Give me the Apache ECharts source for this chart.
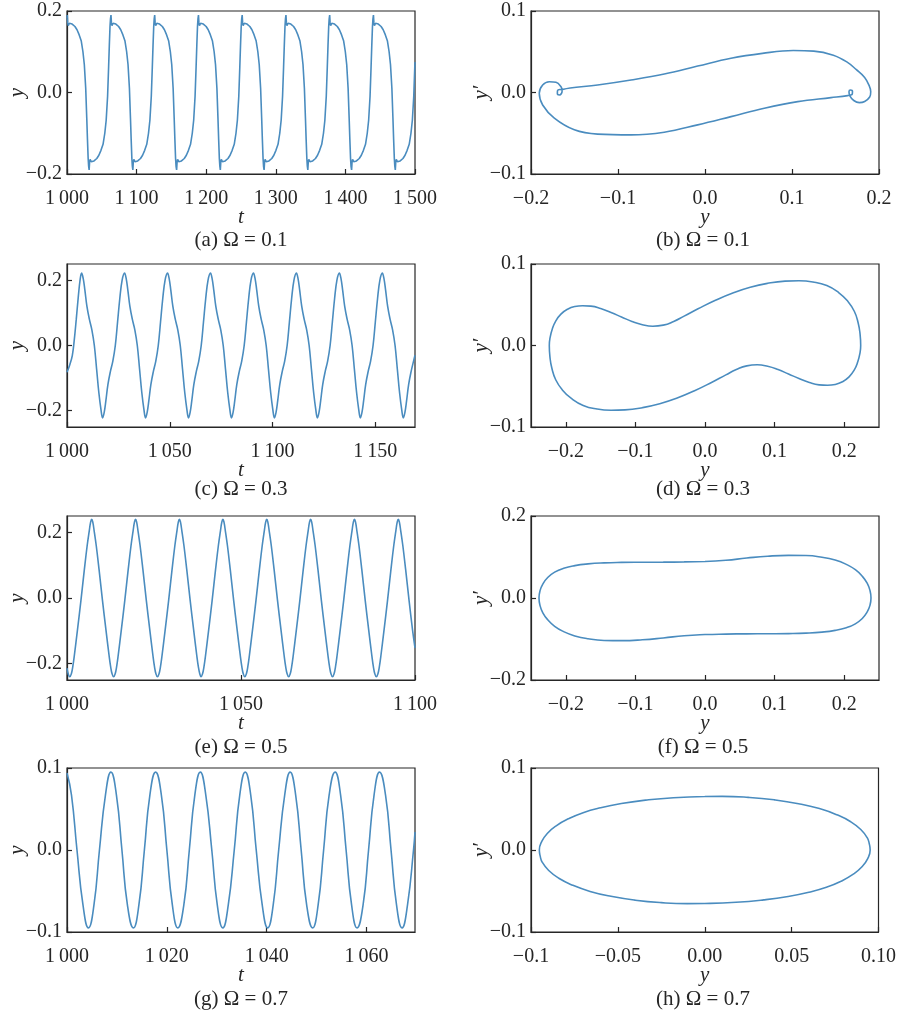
<!DOCTYPE html>
<html>
<head>
<meta charset="utf-8">
<script src="https://cdn.jsdelivr.net/npm/echarts@6/dist/echarts.min.js"></script>
<style>
  html, body { margin: 0; padding: 0; background: #fff; }
  #chart { width: 899px; height: 1017px; }
</style>
</head>
<body>
<div id="chart"></div>
<script>
// ---------- (a) Omega = 0.1 : time series y(t) ----------
const tA = [
  1000.0,
  1000.4, 1001.0, 1001.8, 1003.4, 1007.4, 1011.4, 1014.4, 1017.4, 1020.4, 1022.9, 1024.9, 1026.9, 1028.4, 1029.4, 1030.4, 1031.1,
  1031.8, 1032.4, 1033.2, 1034.8, 1038.8, 1042.8, 1045.8, 1048.8, 1051.8, 1054.3, 1056.3, 1058.3, 1059.8, 1060.8, 1061.8, 1062.5,
  1063.2, 1063.8, 1064.6, 1066.2, 1070.2, 1074.2, 1077.2, 1080.2, 1083.2, 1085.7, 1087.7, 1089.7, 1091.2, 1092.2, 1093.2, 1093.9,
  1094.6, 1095.2, 1096.0, 1097.6, 1101.6, 1105.6, 1108.6, 1111.6, 1114.6, 1117.1, 1119.1, 1121.1, 1122.6, 1123.6, 1124.6, 1125.3,
  1126.0, 1126.6, 1127.4, 1129.0, 1133.0, 1137.0, 1140.0, 1143.0, 1146.0, 1148.5, 1150.5, 1152.5, 1154.0, 1155.0, 1156.0, 1156.7,
  1157.5, 1158.1, 1158.9, 1160.5, 1164.5, 1168.5, 1171.5, 1174.5, 1177.5, 1180.0, 1182.0, 1184.0, 1185.5, 1186.5, 1187.5, 1188.2,
  1188.9, 1189.5, 1190.3, 1191.9, 1195.9, 1199.9, 1202.9, 1205.9, 1208.9, 1211.4, 1213.4, 1215.4, 1216.9, 1217.9, 1218.9, 1219.6,
  1220.3, 1220.9, 1221.7, 1223.3, 1227.3, 1231.3, 1234.3, 1237.3, 1240.3, 1242.8, 1244.8, 1246.8, 1248.3, 1249.3, 1250.3, 1251.0,
  1251.7, 1252.3, 1253.1, 1254.7, 1258.7, 1262.7, 1265.7, 1268.7, 1271.7, 1274.2, 1276.2, 1278.2, 1279.7, 1280.7, 1281.7, 1282.4,
  1283.2, 1283.8, 1284.6, 1286.2, 1290.2, 1294.2, 1297.2, 1300.2, 1303.2, 1305.7, 1307.7, 1309.7, 1311.2, 1312.2, 1313.2, 1313.9,
  1314.6, 1315.2, 1316.0, 1317.6, 1321.6, 1325.6, 1328.6, 1331.6, 1334.6, 1337.1, 1339.1, 1341.1, 1342.6, 1343.6, 1344.6, 1345.3,
  1346.0, 1346.6, 1347.4, 1349.0, 1353.0, 1357.0, 1360.0, 1363.0, 1366.0, 1368.5, 1370.5, 1372.5, 1374.0, 1375.0, 1376.0, 1376.7,
  1377.4, 1378.0, 1378.8, 1380.4, 1384.4, 1388.4, 1391.4, 1394.4, 1397.4, 1399.9, 1401.9, 1403.9, 1405.4, 1406.4, 1407.4, 1408.1,
  1408.9, 1409.5, 1410.3, 1411.9, 1415.9, 1419.9, 1422.9, 1425.9, 1428.9, 1431.4, 1433.4, 1435.4, 1436.9, 1437.9, 1438.9, 1439.6,
  1440.3, 1440.9, 1441.7, 1443.3, 1447.3, 1451.3, 1454.3, 1457.3, 1460.3, 1462.8, 1464.8, 1466.8, 1468.3, 1469.3, 1470.3, 1471.0,
  1471.7, 1472.3, 1473.1, 1474.7, 1478.7, 1482.7, 1485.7, 1488.7, 1491.7, 1494.2, 1496.2, 1498.2, 1499.7, 1500.0
];
const yA = [
  0.182,
  0.190, 0.172, 0.164, 0.170, 0.168, 0.162, 0.154, 0.142, 0.127, 0.100, 0.068, 0.010, -0.063, -0.115, -0.162, -0.181,
  -0.190, -0.172, -0.164, -0.170, -0.168, -0.162, -0.154, -0.142, -0.127, -0.100, -0.068, -0.010, 0.063, 0.115, 0.162, 0.181,
  0.190, 0.172, 0.164, 0.170, 0.168, 0.162, 0.154, 0.142, 0.127, 0.100, 0.068, 0.010, -0.063, -0.115, -0.162, -0.181,
  -0.190, -0.172, -0.164, -0.170, -0.168, -0.162, -0.154, -0.142, -0.127, -0.100, -0.068, -0.010, 0.063, 0.115, 0.162, 0.181,
  0.190, 0.172, 0.164, 0.170, 0.168, 0.162, 0.154, 0.142, 0.127, 0.100, 0.068, 0.010, -0.063, -0.115, -0.162, -0.181,
  -0.190, -0.172, -0.164, -0.170, -0.168, -0.162, -0.154, -0.142, -0.127, -0.100, -0.068, -0.010, 0.063, 0.115, 0.162, 0.181,
  0.190, 0.172, 0.164, 0.170, 0.168, 0.162, 0.154, 0.142, 0.127, 0.100, 0.068, 0.010, -0.063, -0.115, -0.162, -0.181,
  -0.190, -0.172, -0.164, -0.170, -0.168, -0.162, -0.154, -0.142, -0.127, -0.100, -0.068, -0.010, 0.063, 0.115, 0.162, 0.181,
  0.190, 0.172, 0.164, 0.170, 0.168, 0.162, 0.154, 0.142, 0.127, 0.100, 0.068, 0.010, -0.063, -0.115, -0.162, -0.181,
  -0.190, -0.172, -0.164, -0.170, -0.168, -0.162, -0.154, -0.142, -0.127, -0.100, -0.068, -0.010, 0.063, 0.115, 0.162, 0.181,
  0.190, 0.172, 0.164, 0.170, 0.168, 0.162, 0.154, 0.142, 0.127, 0.100, 0.068, 0.010, -0.063, -0.115, -0.162, -0.181,
  -0.190, -0.172, -0.164, -0.170, -0.168, -0.162, -0.154, -0.142, -0.127, -0.100, -0.068, -0.010, 0.063, 0.115, 0.162, 0.181,
  0.190, 0.172, 0.164, 0.170, 0.168, 0.162, 0.154, 0.142, 0.127, 0.100, 0.068, 0.010, -0.063, -0.115, -0.162, -0.181,
  -0.190, -0.172, -0.164, -0.170, -0.168, -0.162, -0.154, -0.142, -0.127, -0.100, -0.068, -0.010, 0.063, 0.115, 0.162, 0.181,
  0.190, 0.172, 0.164, 0.170, 0.168, 0.162, 0.154, 0.142, 0.127, 0.100, 0.068, 0.010, -0.063, -0.115, -0.162, -0.181,
  -0.190, -0.172, -0.164, -0.170, -0.168, -0.162, -0.154, -0.142, -0.127, -0.100, -0.068, -0.010, 0.063, 0.075
];

// ---------- (b) Omega = 0.1 : phase portrait [y, y'] ----------
const phaseB = [
  [-0.1645, 0.0035], [-0.1550, 0.0055], [-0.1234, 0.0092], [-0.0850, 0.0153], [-0.0468, 0.0226],
  [-0.0084, 0.0324], [0.0299, 0.0420], [0.0660, 0.0480], [0.1015, 0.0515], [0.1250, 0.0508],
  [0.1475, 0.0458], [0.1630, 0.0375], [0.1740, 0.0280], [0.1835, 0.0185], [0.1885, 0.0090],
  [0.1905, 0.0010], [0.1893, -0.0055], [0.1835, -0.0110], [0.1774, -0.0124], [0.1710, -0.0098],
  [0.1665, -0.0040], [0.1655, 0.0010], [0.1672, 0.0030], [0.1695, 0.0015], [0.1693, -0.0018],
  [0.1668, -0.0032], [0.1640, -0.0038], [0.1448, -0.0063], [0.1066, -0.0112], [0.0682, -0.0193],
  [0.0299, -0.0296], [-0.0084, -0.0397], [-0.0468, -0.0487], [-0.0850, -0.0520], [-0.1234, -0.0511],
  [-0.1502, -0.0458], [-0.1732, -0.0315], [-0.1866, -0.0153], [-0.1905, -0.0010], [-0.1866, 0.0092],
  [-0.1790, 0.0132], [-0.1713, 0.0125], [-0.1655, 0.0071], [-0.1642, 0.0025], [-0.1650, -0.0012],
  [-0.1674, -0.0030], [-0.1697, -0.0012], [-0.1695, 0.0022], [-0.1670, 0.0036], [-0.1645, 0.0035]
];

// ---------- (c) Omega = 0.3 : time series ----------
const tC = [
  1000.0, 1001.4, 1002.6, 1003.5, 1004.5, 1005.5, 1006.4,
  1007.1, 1007.9, 1008.7, 1009.7, 1010.9, 1012.1, 1013.3, 1014.4, 1015.5, 1016.6,
  1017.3, 1018.1, 1018.9, 1019.9, 1021.1, 1022.3, 1023.5, 1024.6, 1025.7, 1026.8,
  1028.0, 1028.8, 1029.6, 1030.6, 1031.8, 1033.0, 1034.2, 1035.3, 1036.4, 1037.5,
  1038.2, 1039.0, 1039.8, 1040.8, 1042.0, 1043.2, 1044.4, 1045.5, 1046.6, 1047.7,
  1048.9, 1049.7, 1050.5, 1051.5, 1052.7, 1053.9, 1055.1, 1056.2, 1057.3, 1058.4,
  1059.1, 1059.9, 1060.7, 1061.7, 1062.9, 1064.1, 1065.3, 1066.4, 1067.5, 1068.6,
  1069.8, 1070.6, 1071.4, 1072.4, 1073.6, 1074.8, 1076.0, 1077.1, 1078.2, 1079.3,
  1080.0, 1080.8, 1081.6, 1082.6, 1083.8, 1085.0, 1086.2, 1087.3, 1088.4, 1089.5,
  1090.7, 1091.5, 1092.3, 1093.3, 1094.5, 1095.7, 1096.9, 1098.0, 1099.1, 1100.2,
  1100.9, 1101.7, 1102.5, 1103.5, 1104.7, 1105.9, 1107.1, 1108.2, 1109.3, 1110.4,
  1111.6, 1112.4, 1113.2, 1114.2, 1115.4, 1116.6, 1117.8, 1118.9, 1120.0, 1121.1,
  1121.8, 1122.6, 1123.4, 1124.4, 1125.6, 1126.8, 1128.0, 1129.1, 1130.2, 1131.3,
  1132.5, 1133.3, 1134.1, 1135.1, 1136.3, 1137.5, 1138.7, 1139.8, 1140.9, 1142.0,
  1142.7, 1143.5, 1144.3, 1145.3, 1146.5, 1147.7, 1148.9, 1150.0, 1151.1, 1152.2,
  1153.4, 1154.2, 1155.0, 1156.0, 1157.2, 1158.4, 1159.6, 1160.7, 1161.8, 1162.9,
  1163.6, 1164.4, 1165.2, 1166.2, 1167.4, 1168.6, 1169.3
];
const yC = [
  -0.082, -0.058, -0.030, 0.015, 0.080, 0.150, 0.203,
  0.222, 0.205, 0.170, 0.120, 0.080, 0.048, 0.000, -0.072, -0.145, -0.200,
  -0.222, -0.205, -0.170, -0.120, -0.080, -0.048, 0.000, 0.072, 0.145, 0.200,
  0.222, 0.205, 0.170, 0.120, 0.080, 0.048, 0.000, -0.072, -0.145, -0.200,
  -0.222, -0.205, -0.170, -0.120, -0.080, -0.048, 0.000, 0.072, 0.145, 0.200,
  0.222, 0.205, 0.170, 0.120, 0.080, 0.048, 0.000, -0.072, -0.145, -0.200,
  -0.222, -0.205, -0.170, -0.120, -0.080, -0.048, 0.000, 0.072, 0.145, 0.200,
  0.222, 0.205, 0.170, 0.120, 0.080, 0.048, 0.000, -0.072, -0.145, -0.200,
  -0.222, -0.205, -0.170, -0.120, -0.080, -0.048, 0.000, 0.072, 0.145, 0.200,
  0.222, 0.205, 0.170, 0.120, 0.080, 0.048, 0.000, -0.072, -0.145, -0.200,
  -0.222, -0.205, -0.170, -0.120, -0.080, -0.048, 0.000, 0.072, 0.145, 0.200,
  0.222, 0.205, 0.170, 0.120, 0.080, 0.048, 0.000, -0.072, -0.145, -0.200,
  -0.222, -0.205, -0.170, -0.120, -0.080, -0.048, 0.000, 0.072, 0.145, 0.200,
  0.222, 0.205, 0.170, 0.120, 0.080, 0.048, 0.000, -0.072, -0.145, -0.200,
  -0.222, -0.205, -0.170, -0.120, -0.080, -0.048, 0.000, 0.072, 0.145, 0.200,
  0.222, 0.205, 0.170, 0.120, 0.080, 0.048, 0.000, -0.072, -0.145, -0.200,
  -0.222, -0.205, -0.170, -0.120, -0.080, -0.048, -0.030
];

// ---------- (d) Omega = 0.3 : phase portrait (starts at the top of the loop) ----------
const phaseD = [
  [0.1350, 0.0795], [0.1550, 0.0780], [0.1750, 0.0735], [0.1920, 0.0650], [0.2050, 0.0545],
  [0.2145, 0.0420], [0.2200, 0.0280], [0.2228, 0.0140], [0.2237, 0.0000],
  [0.2225, -0.0100], [0.2195, -0.0200], [0.2145, -0.0300], [0.2070, -0.0385], [0.1975, -0.0445],
  [0.1870, -0.0478], [0.1760, -0.0488], [0.1640, -0.0483], [0.1500, -0.0455], [0.1350, -0.0405],
  [0.1200, -0.0350], [0.1050, -0.0295], [0.0900, -0.0255], [0.0750, -0.0237], [0.0600, -0.0250],
  [0.0450, -0.0295], [0.0300, -0.0360], [0.0100, -0.0450], [-0.0150, -0.0555], [-0.0400, -0.0645],
  [-0.0650, -0.0715], [-0.0900, -0.0763], [-0.1150, -0.0790], [-0.1350, -0.0795], [-0.1550, -0.0780],
  [-0.1750, -0.0735], [-0.1920, -0.0650], [-0.2050, -0.0545], [-0.2145, -0.0420], [-0.2200, -0.0280],
  [-0.2228, -0.0140], [-0.2237, 0.0000],
  [-0.2225, 0.0100], [-0.2195, 0.0200], [-0.2145, 0.0300], [-0.2070, 0.0385], [-0.1975, 0.0445],
  [-0.1870, 0.0478], [-0.1760, 0.0488], [-0.1640, 0.0483], [-0.1500, 0.0455], [-0.1350, 0.0405],
  [-0.1200, 0.0350], [-0.1050, 0.0295], [-0.0900, 0.0255], [-0.0750, 0.0237], [-0.0600, 0.0250],
  [-0.0450, 0.0295], [-0.0300, 0.0360], [-0.0100, 0.0450], [0.0150, 0.0555], [0.0400, 0.0645],
  [0.0650, 0.0715], [0.0900, 0.0763], [0.1150, 0.0790], [0.1350, 0.0795]
];

// ---------- (e) Omega = 0.5 : time series ----------
const tE = [
  1000.0, 1000.4,
  1000.8, 1001.25, 1001.65, 1002.1, 1003.0, 1004.0, 1005.0, 1005.8, 1006.4, 1006.8,
  1007.1, 1007.4, 1007.8, 1008.4, 1009.2, 1010.2, 1011.2, 1012.1, 1012.55, 1012.95,
  1013.4, 1013.85, 1014.25, 1014.7, 1015.6, 1016.6, 1017.6, 1018.4, 1019.0, 1019.4,
  1019.7, 1020.0, 1020.4, 1021.0, 1021.8, 1022.8, 1023.8, 1024.7, 1025.15, 1025.55,
  1026.0, 1026.45, 1026.85, 1027.3, 1028.2, 1029.2, 1030.2, 1031.0, 1031.6, 1032.0,
  1032.3, 1032.6, 1033.0, 1033.6, 1034.4, 1035.4, 1036.4, 1037.3, 1037.75, 1038.15,
  1038.5, 1038.95, 1039.35, 1039.8, 1040.7, 1041.7, 1042.7, 1043.5, 1044.1, 1044.5,
  1044.8, 1045.1, 1045.5, 1046.1, 1046.9, 1047.9, 1048.9, 1049.8, 1050.25, 1050.65,
  1051.1, 1051.55, 1051.95, 1052.4, 1053.3, 1054.3, 1055.3, 1056.1, 1056.7, 1057.1,
  1057.4, 1057.7, 1058.1, 1058.7, 1059.5, 1060.5, 1061.5, 1062.4, 1062.85, 1063.25,
  1063.7, 1064.15, 1064.55, 1065.0, 1065.9, 1066.9, 1067.9, 1068.7, 1069.3, 1069.7,
  1070.0, 1070.3, 1070.7, 1071.3, 1072.1, 1073.1, 1074.1, 1075.0, 1075.45, 1075.85,
  1076.3, 1076.75, 1077.15, 1077.6, 1078.5, 1079.5, 1080.5, 1081.3, 1081.9, 1082.3,
  1082.6, 1082.9, 1083.3, 1083.9, 1084.7, 1085.7, 1086.7, 1087.6, 1088.05, 1088.45,
  1088.9, 1089.35, 1089.75, 1090.2, 1091.1, 1092.1, 1093.1, 1093.9, 1094.5, 1094.9,
  1095.2, 1095.5, 1095.9, 1096.5, 1097.3, 1098.3, 1099.3, 1100.0
];
const yE = [
  -0.214, -0.233,
  -0.240, -0.231, -0.210, -0.176, -0.098, -0.008, 0.088, 0.160, 0.205, 0.232,
  0.240, 0.232, 0.205, 0.160, 0.088, -0.008, -0.098, -0.176, -0.210, -0.231,
  -0.240, -0.231, -0.210, -0.176, -0.098, -0.008, 0.088, 0.160, 0.205, 0.232,
  0.240, 0.232, 0.205, 0.160, 0.088, -0.008, -0.098, -0.176, -0.210, -0.231,
  -0.240, -0.231, -0.210, -0.176, -0.098, -0.008, 0.088, 0.160, 0.205, 0.232,
  0.240, 0.232, 0.205, 0.160, 0.088, -0.008, -0.098, -0.176, -0.210, -0.231,
  -0.240, -0.231, -0.210, -0.176, -0.098, -0.008, 0.088, 0.160, 0.205, 0.232,
  0.240, 0.232, 0.205, 0.160, 0.088, -0.008, -0.098, -0.176, -0.210, -0.231,
  -0.240, -0.231, -0.210, -0.176, -0.098, -0.008, 0.088, 0.160, 0.205, 0.232,
  0.240, 0.232, 0.205, 0.160, 0.088, -0.008, -0.098, -0.176, -0.210, -0.231,
  -0.240, -0.231, -0.210, -0.176, -0.098, -0.008, 0.088, 0.160, 0.205, 0.232,
  0.240, 0.232, 0.205, 0.160, 0.088, -0.008, -0.098, -0.176, -0.210, -0.231,
  -0.240, -0.231, -0.210, -0.176, -0.098, -0.008, 0.088, 0.160, 0.205, 0.232,
  0.240, 0.232, 0.205, 0.160, 0.088, -0.008, -0.098, -0.176, -0.210, -0.231,
  -0.240, -0.231, -0.210, -0.176, -0.098, -0.008, 0.088, 0.160, 0.205, 0.232,
  0.240, 0.232, 0.205, 0.160, 0.088, -0.008, -0.098, -0.152
];

// ---------- (f) Omega = 0.5 : phase portrait (starts at the top of the loop) ----------
const phaseF = [
  [0.0000, 0.0892], [0.0300, 0.0920], [0.0600, 0.0975], [0.0900, 0.1020], [0.1200, 0.1040],
  [0.1450, 0.1035], [0.1680, 0.0995], [0.1870, 0.0925], [0.2030, 0.0820], [0.2160, 0.0690],
  [0.2260, 0.0530], [0.2330, 0.0360], [0.2370, 0.0185], [0.2385, 0.0000],
  [0.2370, -0.0180], [0.2330, -0.0340], [0.2260, -0.0500], [0.2160, -0.0630], [0.2030, -0.0725],
  [0.1870, -0.0790], [0.1680, -0.0832], [0.1450, -0.0857], [0.1200, -0.0868], [0.0900, -0.0872],
  [0.0600, -0.0874], [0.0300, -0.0880], [0.0000, -0.0892], [-0.0300, -0.0920], [-0.0600, -0.0975],
  [-0.0900, -0.1020], [-0.1200, -0.1040], [-0.1450, -0.1035], [-0.1680, -0.0995], [-0.1870, -0.0925],
  [-0.2030, -0.0820], [-0.2160, -0.0690], [-0.2260, -0.0530], [-0.2330, -0.0360], [-0.2370, -0.0185],
  [-0.2385, 0.0000],
  [-0.2370, 0.0180], [-0.2330, 0.0340], [-0.2260, 0.0500], [-0.2160, 0.0630], [-0.2030, 0.0725],
  [-0.1870, 0.0790], [-0.1680, 0.0832], [-0.1450, 0.0857], [-0.1200, 0.0868], [-0.0900, 0.0872],
  [-0.0600, 0.0874], [-0.0300, 0.0880], [0.0000, 0.0892]
];

// ---------- (g) Omega = 0.7 : time series ----------
const tG = [
  1000.0, 1000.9, 1002.0, 1003.2, 1004.3, 1005.4, 1006.5, 1007.7,
  1008.8, 1009.9, 1011.0, 1012.1, 1013.3, 1014.4, 1015.5, 1016.6,
  1017.75, 1018.9, 1020.0, 1021.1, 1022.2, 1023.4, 1024.5, 1025.6,
  1026.7, 1027.8, 1029.0, 1030.1, 1031.2, 1032.3, 1033.5, 1034.6,
  1035.7, 1036.8, 1037.9, 1039.1, 1040.2, 1041.3, 1042.4, 1043.6,
  1044.7, 1045.8, 1046.9, 1048.0, 1049.2, 1050.3, 1051.4, 1052.5,
  1053.7, 1054.8, 1055.9, 1057.0, 1058.1, 1059.3, 1060.4, 1061.5,
  1062.6, 1063.8, 1064.9, 1066.0, 1067.1, 1068.2, 1069.4, 1069.7
];
const yG = [
  0.094, 0.067, 0.000, -0.067, -0.095, -0.067, 0.000, 0.067,
  0.095, 0.067, 0.000, -0.067, -0.095, -0.067, 0.000, 0.067,
  0.095, 0.067, 0.000, -0.067, -0.095, -0.067, 0.000, 0.067,
  0.095, 0.067, 0.000, -0.067, -0.095, -0.067, 0.000, 0.067,
  0.095, 0.067, 0.000, -0.067, -0.095, -0.067, 0.000, 0.067,
  0.095, 0.067, 0.000, -0.067, -0.095, -0.067, 0.000, 0.067,
  0.095, 0.067, 0.000, -0.067, -0.095, -0.067, 0.000, 0.067,
  0.095, 0.067, 0.000, -0.067, -0.095, -0.067, 0.000, 0.022
];

// ---------- (h) Omega = 0.7 : phase portrait (starts at the top of the loop) ----------
const phaseH = [
  [0.0000, 0.0652], [0.0100, 0.0654], [0.0250, 0.0642], [0.0400, 0.0612], [0.0540, 0.0565],
  [0.0660, 0.0505], [0.0760, 0.0430], [0.0840, 0.0345], [0.0898, 0.0250], [0.0935, 0.0150],
  [0.0947, 0.0075], [0.0952, 0.0000],
  [0.0938, -0.0105], [0.0905, -0.0205], [0.0855, -0.0295], [0.0785, -0.0380], [0.0700, -0.0455],
  [0.0600, -0.0515], [0.0480, -0.0567], [0.0340, -0.0608], [0.0180, -0.0638], [0.0000, -0.0652],
  [-0.0100, -0.0654], [-0.0250, -0.0642], [-0.0400, -0.0612], [-0.0540, -0.0565], [-0.0660, -0.0505],
  [-0.0760, -0.0430], [-0.0840, -0.0345], [-0.0898, -0.0250], [-0.0935, -0.0150], [-0.0947, -0.0075],
  [-0.0952, 0.0000],
  [-0.0938, 0.0105], [-0.0905, 0.0205], [-0.0855, 0.0295], [-0.0785, 0.0380], [-0.0700, 0.0455],
  [-0.0600, 0.0515], [-0.0480, 0.0567], [-0.0340, 0.0608], [-0.0180, 0.0638], [0.0000, 0.0652]
];

// ---------- tick positions and labels ----------
const ticksTA = [1000, 1100, 1200, 1300, 1400, 1500];
const ticksTC = [1000, 1050, 1100, 1150];
const ticksTE = [1000, 1050, 1100];
const ticksTG = [1000, 1020, 1040, 1060];
const ticksY2 = [-0.2, 0, 0.2];
const ticksY1 = [-0.1, 0, 0.1];
const ticksPhaseX = [-0.2, -0.1, 0, 0.1, 0.2];
const ticksHX = [-0.1, -0.05, 0, 0.05, 0.1];
const labelsHX = ['\u22120.1', '\u22120.05', '0.00', '0.05', '0.10'];

const captions = [
  '(a) \u03A9 = 0.1', '(b) \u03A9 = 0.1',
  '(c) \u03A9 = 0.3', '(d) \u03A9 = 0.3',
  '(e) \u03A9 = 0.5', '(f) \u03A9 = 0.5',
  '(g) \u03A9 = 0.7', '(h) \u03A9 = 0.7'
];

// ---------- layout and style ----------
const FONT = '"Liberation Serif", "Times New Roman", serif';
const INK = '#262626';
const LINE = '#4a8cbf';
const colLeft = [67, 531];
const colCaptionX = [241, 703];
const rowTop = [11, 264, 516, 768];
const rowH = [163, 163, 164, 164];
const rowCaptionY = [240, 489, 747, 999];
const plotW = 348;

const zip = (xs, ys) => xs.map((x, i) => [x, ys[i]]);
const timeLabel = v => {
  const s = String(Math.round(v));
  return s.slice(0, s.length - 3) + '\u2009' + s.slice(-3);
};
const dec1 = v => (v < -1e-9 ? '\u2212' : '') + Math.abs(v).toFixed(1);
const hLabel = v => {
  const i = ticksHX.findIndex(t => Math.abs(t - v) < 1e-9);
  return i >= 0 ? labelsHX[i] : '';
};

const panels = [
  { col: 0, row: 0, x: [1000, 1500], y: [-0.2, 0.2], xt: ticksTA, yt: ticksY2, xf: timeLabel, xn: 't', yn: 'y', data: zip(tA, yA), smooth: false },
  { col: 1, row: 0, x: [-0.2, 0.2], y: [-0.1, 0.1], xt: ticksPhaseX, yt: ticksY1, xf: dec1, xn: 'y', yn: 'y\u2032', data: phaseB, smooth: 0.4 },
  { col: 0, row: 1, x: [1000, 1169.3], y: [-0.25, 0.25], xt: ticksTC, yt: ticksY2, xf: timeLabel, xn: 't', yn: 'y', data: zip(tC, yC), smooth: 0.4 },
  { col: 1, row: 1, x: [-0.25, 0.25], y: [-0.1, 0.1], xt: ticksPhaseX, yt: ticksY1, xf: dec1, xn: 'y', yn: 'y\u2032', data: phaseD, smooth: 0.5 },
  { col: 0, row: 2, x: [1000, 1100], y: [-0.25, 0.25], xt: ticksTE, yt: ticksY2, xf: timeLabel, xn: 't', yn: 'y', data: zip(tE, yE), smooth: 0.4 },
  { col: 1, row: 2, x: [-0.25, 0.25], y: [-0.2, 0.2], xt: ticksPhaseX, yt: ticksY2, xf: dec1, xn: 'y', yn: 'y\u2032', data: phaseF, smooth: 0.5 },
  { col: 0, row: 3, x: [1000, 1069.7], y: [-0.1, 0.1], xt: ticksTG, yt: ticksY1, xf: timeLabel, xn: 't', yn: 'y', data: zip(tG, yG), smooth: 0.5 },
  { col: 1, row: 3, x: [-0.1, 0.1], y: [-0.1, 0.1], xt: ticksHX, yt: ticksY1, xf: hLabel, xn: 'y', yn: 'y\u2032', data: phaseH, smooth: 0.5 }
];

const labelStyle = { fontFamily: FONT, fontSize: 20, color: INK };
const nameStyle = { fontFamily: FONT, fontSize: 21, fontStyle: 'italic', color: INK };

const grid = [], xAxis = [], yAxis = [], series = [], graphic = [];
panels.forEach((p, i) => {
  grid.push({
    left: colLeft[p.col], top: rowTop[p.row], width: plotW, height: rowH[p.row],
    show: true, borderColor: INK, borderWidth: 1.2, backgroundColor: 'transparent'
  });
  xAxis.push({
    gridIndex: i, type: 'value', min: p.x[0], max: p.x[1],
    axisLine: { show: true, onZero: false, lineStyle: { color: INK, width: 1.2 } },
    axisTick: { show: true, inside: true, length: 5, customValues: p.xt, lineStyle: { color: INK, width: 1.2 } },
    axisLabel: Object.assign({ customValues: p.xt, formatter: p.xf, margin: 15 }, labelStyle),
    splitLine: { show: false },
    name: p.xn, nameLocation: 'middle', nameGap: 33, nameMoveOverlap: false, nameTextStyle: nameStyle
  });
  yAxis.push({
    gridIndex: i, type: 'value', min: p.y[0], max: p.y[1],
    axisLine: { show: true, onZero: false, lineStyle: { color: INK, width: 1.2 } },
    axisTick: { show: true, inside: true, length: 5, customValues: p.yt, lineStyle: { color: INK, width: 1.2 } },
    axisLabel: Object.assign({ customValues: p.yt, formatter: dec1, margin: 5 }, labelStyle),
    splitLine: { show: false },
    name: p.yn, nameLocation: 'middle', nameRotate: 90, nameGap: 39, nameMoveOverlap: false, nameTextStyle: nameStyle
  });
  series.push({
    type: 'line', xAxisIndex: i, yAxisIndex: i, data: p.data,
    showSymbol: false, symbol: 'none', smooth: p.smooth,
    lineStyle: { color: LINE, width: 1.6 }, silent: true
  });
  graphic.push({
    type: 'text', x: colCaptionX[p.col], y: rowCaptionY[p.row],
    style: { text: captions[i], font: '21px ' + FONT, fill: INK, textAlign: 'center', textVerticalAlign: 'middle' }
  });
});

const chart = echarts.init(document.getElementById('chart'), null, { renderer: 'canvas' });
chart.setOption({ animation: false, backgroundColor: '#fff', grid, xAxis, yAxis, series, graphic });
</script>
</body>
</html>
